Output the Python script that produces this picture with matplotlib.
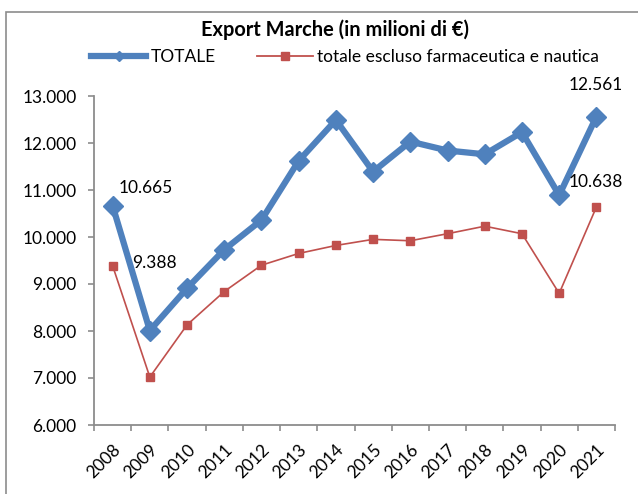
import matplotlib
matplotlib.use("Agg")
import matplotlib.pyplot as plt
from matplotlib.patches import Rectangle
from matplotlib.lines import Line2D
from matplotlib.ticker import FixedLocator

years = ["2008", "2009", "2010", "2011", "2012", "2013", "2014",
         "2015", "2016", "2017", "2018", "2019", "2020", "2021"]
totale = [10.665, 8.01, 8.91, 9.73, 10.36, 11.62, 12.49,
          11.39, 12.03, 11.84, 11.76, 12.23, 10.89, 12.561]
escluso = [9.388, 7.02, 8.13, 8.84, 9.40, 9.65, 9.82,
           9.95, 9.92, 10.07, 10.23, 10.07, 8.80, 10.638]
yticks = [6, 7, 8, 9, 10, 11, 12, 13]
ytick_labels = ["6.000", "7.000", "8.000", "9.000", "10.000", "11.000", "12.000", "13.000"]
title = "Export Marche (in milioni di €)"
label_totale = "TOTALE"
label_escluso = "totale escluso farmaceutica e nautica"

plt.rcParams['font.family'] = ['Lato', 'DejaVu Sans']

W, H = 638, 494
FS = 12.5
fig = plt.figure(figsize=(W / 100, H / 100), dpi=100)
ax = fig.add_axes([94 / W, 1 - 425 / H, (615 - 94) / W, (425 - 96) / H])

blue = "#4F81BD"
red = "#C0504D"
x = list(range(len(years)))

ax.plot(x, totale, color=blue, lw=4.5, marker="D", ms=10, zorder=3)
ax.plot(x, escluso, color=red, lw=1.2, marker="s", ms=6, zorder=2)

ax.set_xlim(-0.5, len(years) - 0.5)
ax.set_ylim(6, 13)
ax.set_yticks(yticks)
ax.set_yticklabels(ytick_labels, fontsize=FS)
ax.xaxis.set_major_locator(FixedLocator(x))
ax.set_xticklabels(years, rotation=45, ha="right", va="top",
                   rotation_mode="anchor", fontsize=FS)
ax.xaxis.set_minor_locator(FixedLocator([i - 0.5 for i in range(len(years) + 1)]))
ax.tick_params(axis="x", which="major", length=0, pad=12)
ax.tick_params(axis="x", which="minor", length=4.5, color="#8c8c8c", width=1.2)
ax.tick_params(axis="y", length=4.5, color="#8c8c8c", width=1.2, pad=8)
for s in ["top", "right"]:
    ax.spines[s].set_visible(False)
for s in ["left", "bottom"]:
    ax.spines[s].set_color("#8c8c8c")
    ax.spines[s].set_linewidth(1.3)

def fmt(v):
    return f"{v:.3f}"

px = 0.72  # points per pixel
ax.annotate(fmt(totale[0]), (x[0], totale[0]), xytext=(6 * px, 18 * px),
            textcoords="offset points", fontsize=FS, ha="left", va="center")
ax.annotate(fmt(escluso[0]), (x[0], escluso[0]), xytext=(20 * px, 3 * px),
            textcoords="offset points", fontsize=FS, ha="left", va="center")
ax.annotate(fmt(totale[-1]), (x[-1], totale[-1]), xytext=(-1 * px, 32 * px),
            textcoords="offset points", fontsize=FS, ha="center", va="center")
ax.annotate(fmt(escluso[-1]), (x[-1], escluso[-1]), xytext=(-1 * px, 25 * px),
            textcoords="offset points", fontsize=FS, ha="center", va="center")

fig.text(335 / W, 1 - 30 / H, title, fontsize=14.4, fontweight="bold",
         ha="center", va="center")

h1 = Line2D([], [], color=blue, lw=4.5, marker="D", ms=5.5)
h2 = Line2D([], [], color=red, lw=1.3, marker="s", ms=6)
fig.legend(handles=[h1, h2], labels=[label_totale, label_escluso],
           loc="center", bbox_to_anchor=(345 / W, 1 - 57 / H),
           ncol=2, frameon=False, fontsize=FS, handlelength=3.2,
           columnspacing=2.4, handletextpad=0.25, borderaxespad=0,
           borderpad=0)

fig.patches.append(Rectangle((6 / W, -0.1), 1.2, 1 - 12 / H + 0.1,
                             transform=fig.transFigure, fill=False,
                             edgecolor="#8c8c8c", lw=1.2))

fig.savefig("out.png", dpi=100)
